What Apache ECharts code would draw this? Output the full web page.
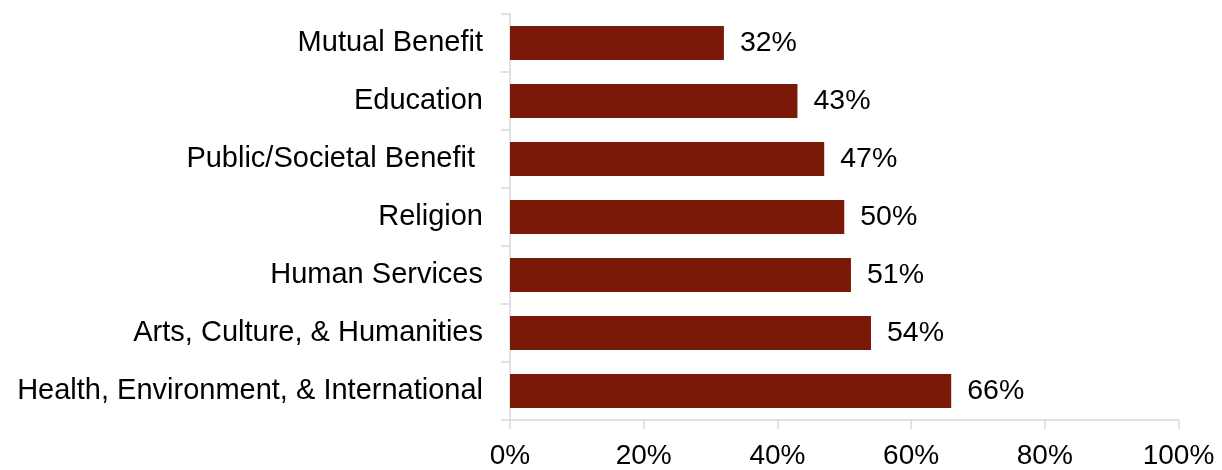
<!DOCTYPE html>
<html>
<head>
<meta charset="utf-8">
<script src="https://cdn.jsdelivr.net/npm/echarts@6/dist/echarts.min.js"></script>
<style>
  html, body { margin: 0; padding: 0; background: #ffffff; }
  #chart { width: 1222px; height: 470px; }
</style>
</head>
<body>
<div id="chart"></div>
<script>
// Categories listed bottom-to-top (category axis draws the first item at the bottom)
const categories = [
  'Health, Environment, & International',
  'Arts, Culture, & Humanities',
  'Human Services',
  'Religion',
  'Public/Societal Benefit ',
  'Education',
  'Mutual Benefit'
];
const shares = [66, 54, 51, 50, 47, 43, 32];
const xTicks = [0, 20, 40, 60, 80, 100];

const axisGray = '#d9d9d9';
const font = 'Liberation Sans, Arial, sans-serif';

const chart = echarts.init(document.getElementById('chart'));
chart.setOption({
  animation: false,
  grid: { left: 510, right: 43.5, top: 14, bottom: 48.5, containLabel: false },
  xAxis: {
    type: 'value',
    min: xTicks[0],
    max: xTicks[xTicks.length - 1],
    interval: xTicks[1] - xTicks[0],
    axisLine: { show: true, lineStyle: { color: axisGray, width: 1.5 } },
    axisTick: { show: true, length: 9, lineStyle: { color: axisGray, width: 1.5 } },
    splitLine: { show: false },
    axisLabel: {
      formatter: '{value}%',
      color: '#000',
      fontFamily: font,
      fontSize: 28,
      margin: 22
    }
  },
  yAxis: {
    type: 'category',
    data: categories,
    axisLine: { show: true, lineStyle: { color: axisGray, width: 1.5 } },
    axisTick: { show: true, length: 9, lineStyle: { color: axisGray, width: 1.5 } },
    axisLabel: {
      color: '#000',
      fontFamily: font,
      fontSize: 29,
      margin: 27,
      padding: [4, 0, 0, 0]
    }
  },
  series: [{
    type: 'bar',
    data: shares,
    barCategoryGap: '41%',
    itemStyle: { color: '#7b1908' },
    label: {
      show: true,
      position: 'right',
      distance: 16,
      formatter: '{c}%',
      color: '#000',
      fontFamily: font,
      fontSize: 28.5,
      padding: [4, 0, 0, 0]
    }
  }]
});
</script>
</body>
</html>
